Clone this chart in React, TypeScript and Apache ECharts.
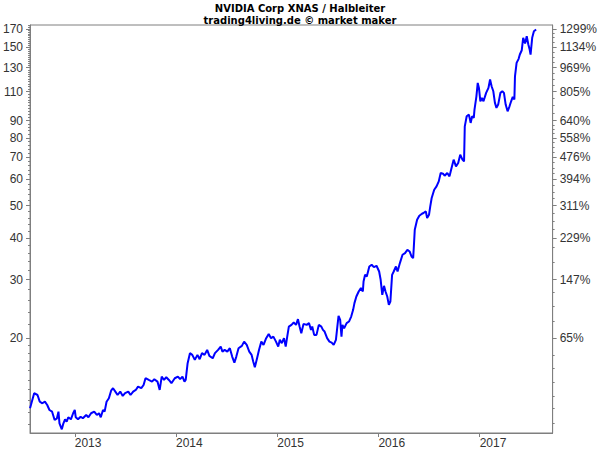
import React, { useEffect, useRef } from "react";
import * as echarts from "echarts";

// decimal years of the traced points
const years: number[] = [
  2012.558, 2012.567, 2012.599, 2012.632, 2012.654, 2012.68, 2012.705, 2012.728, 2012.75, 2012.776,
  2012.801, 2012.824, 2012.839, 2012.849, 2012.872, 2012.888, 2012.904, 2012.92, 2012.936, 2012.962,
  2012.984, 2013.0, 2013.01, 2013.032, 2013.058, 2013.08, 2013.113, 2013.135, 2013.161, 2013.192,
  2013.218, 2013.24, 2013.257, 2013.279, 2013.295, 2013.314, 2013.337, 2013.359, 2013.378, 2013.401,
  2013.423, 2013.449, 2013.474, 2013.497, 2013.529, 2013.551, 2013.577, 2013.603, 2013.625, 2013.657,
  2013.68, 2013.699, 2013.731, 2013.763, 2013.786, 2013.817, 2013.839, 2013.859, 2013.882, 2013.904,
  2013.93, 2013.955, 2013.988, 2014.019, 2014.041, 2014.064, 2014.084, 2014.096, 2014.115, 2014.138,
  2014.161, 2014.186, 2014.212, 2014.234, 2014.257, 2014.282, 2014.308, 2014.33, 2014.363, 2014.385,
  2014.416, 2014.442, 2014.459, 2014.481, 2014.507, 2014.532, 2014.555, 2014.577, 2014.596, 2014.618,
  2014.651, 2014.673, 2014.699, 2014.724, 2014.747, 2014.763, 2014.779, 2014.801, 2014.82, 2014.843,
  2014.865, 2014.891, 2014.916, 2014.939, 2014.962, 2014.988, 2015.01, 2015.026, 2015.045, 2015.067,
  2015.084, 2015.099, 2015.115, 2015.141, 2015.163, 2015.186, 2015.205, 2015.221, 2015.238, 2015.26,
  2015.291, 2015.314, 2015.334, 2015.346, 2015.365, 2015.388, 2015.411, 2015.436, 2015.452, 2015.468,
  2015.493, 2015.516, 2015.538, 2015.558, 2015.58, 2015.596, 2015.606, 2015.622, 2015.635, 2015.644,
  2015.661, 2015.686, 2015.709, 2015.731, 2015.75, 2015.763, 2015.782, 2015.805, 2015.827, 2015.846,
  2015.853, 2015.868, 2015.885, 2015.91, 2015.933, 2015.955, 2015.981, 2016.007, 2016.022, 2016.038,
  2016.055, 2016.07, 2016.087, 2016.103, 2016.118, 2016.135, 2016.151, 2016.173, 2016.189, 2016.212,
  2016.238, 2016.263, 2016.286, 2016.308, 2016.327, 2016.343, 2016.349, 2016.359, 2016.382, 2016.404,
  2016.43, 2016.445, 2016.468, 2016.481, 2016.5, 2016.512, 2016.526, 2016.551, 2016.574, 2016.596,
  2016.615, 2016.638, 2016.654, 2016.68, 2016.702, 2016.718, 2016.743, 2016.766, 2016.788, 2016.808,
  2016.83, 2016.846, 2016.853, 2016.872, 2016.894, 2016.911, 2016.926, 2016.942, 2016.949, 2016.968,
  2016.981, 2016.993, 2017.007, 2017.022, 2017.038, 2017.064, 2017.087, 2017.103, 2017.118, 2017.135,
  2017.151, 2017.166, 2017.183, 2017.205, 2017.224, 2017.24, 2017.257, 2017.276, 2017.295, 2017.311,
  2017.327, 2017.343, 2017.349, 2017.365, 2017.385, 2017.397, 2017.416, 2017.43, 2017.449, 2017.465,
  2017.481, 2017.494, 2017.503, 2017.519, 2017.536, 2017.558,
];

// closing prices (USD)
const prices: number[] = [
  12.32, 12.6, 13.67, 13.5, 12.89, 12.75, 12.89, 12.6, 12.17, 12.03,
  11.36, 11.49, 12.03, 11.1, 10.65, 11.1, 11.41, 11.23, 11.57, 11.41,
  11.9, 12.17, 11.57, 11.41, 11.62, 11.49, 11.76, 11.57, 11.9, 12.03,
  11.76, 11.9, 11.57, 12.17, 12.03, 12.89, 13.2, 13.91, 14.15, 13.82,
  13.5, 13.82, 13.41, 13.67, 13.82, 13.5, 13.82, 13.98, 14.3, 14.15,
  14.47, 15.16, 14.98, 14.81, 15.06, 14.81, 13.98, 15.33, 14.98, 15.27,
  14.98, 14.65, 15.16, 15.33, 15.06, 15.33, 14.81, 14.98, 16.82, 18.03,
  17.82, 17.21, 17.82, 17.29, 18.03, 17.82, 18.44, 17.69, 17.41, 18.03,
  18.44, 18.87, 18.23, 18.44, 18.23, 18.66, 17.61, 16.89, 17.61, 18.66,
  18.96, 19.53, 19.09, 18.23, 17.82, 17.01, 16.36, 17.41, 18.44, 19.53,
  19.09, 20.0, 20.6, 20.0, 20.22, 19.53, 18.87, 19.77, 19.32, 20.0,
  18.87, 20.22, 21.67, 21.93, 22.28, 21.93, 22.81, 21.67, 20.7, 22.08,
  21.93, 22.19, 21.18, 21.67, 20.46, 20.46, 21.93, 21.67, 21.18, 20.94,
  20.0, 19.53, 19.4, 19.09, 19.77, 21.93, 23.34, 22.7, 20.22, 21.93,
  21.43, 22.19, 22.44, 23.23, 24.33, 25.49, 26.68, 27.62, 28.28, 27.62,
  29.6, 31.0, 30.64, 32.84, 33.23, 32.7, 33.0, 31.72, 29.95, 26.99,
  28.73, 27.62, 26.68, 25.19, 25.77, 31.0, 31.72, 32.84, 31.72, 33.62,
  35.61, 36.03, 36.86, 36.43, 35.19, 34.8, 37.3, 42.34, 45.38, 46.65,
  47.3, 47.53, 48.06, 45.91, 46.98, 49.76, 52.73, 55.85, 57.15, 59.16,
  62.7, 62.4, 61.54, 62.7, 61.24, 64.15, 68.75, 65.64, 67.2, 71.17,
  68.75, 67.95, 86.58, 92.79, 93.89, 88.65, 92.79, 91.77, 97.2, 106.58,
  116.94, 112.96, 102.95, 105.4, 102.95, 109.12, 112.96, 119.65, 114.22, 110.34,
  101.82, 98.35, 100.63, 109.12, 110.34, 109.12, 100.63, 96.07, 99.45, 102.95,
  106.14, 104.17, 122.41, 134.31, 138.08, 142.26, 146.56, 159.71, 153.52, 161.47,
  152.47, 147.27, 142.26, 159.71, 167.18, 169.15,
];

// axis ticks
const xYears: number[] = [2013, 2014, 2015, 2016, 2017];
const priceTicks: number[] = [20, 30, 40, 50, 60, 70, 80, 90, 110, 130, 150, 170];
const pctLabels: string[] = [
  "65%", "147%", "229%", "311%", "394%", "476%", "558%", "640%", "805%", "969%", "1134%", "1299%",
];
const leftMinor: number[] = [
  11, 12, 13, 14, 15, 16, 17, 18, 19, 22, 24, 26, 28, 32, 34, 36, 38, 42, 44, 46, 48,
  52, 54, 56, 58, 62, 64, 66, 68, 72, 74, 76, 78, 82, 84, 86, 88, 92, 94, 96, 98, 100,
  102, 104, 106, 108, 112, 114, 116, 118, 120, 122, 124, 126, 128, 132, 134, 136, 138,
  140, 142, 144, 146, 148, 152, 154, 156, 158, 160, 162, 164, 166, 168, 172, 174,
];
const rightMinor: number[] = [
  11.1, 12.3, 13.4, 14.7, 16.25, 17.8, 22.5, 25, 27.5, 33.7, 37.5, 42.5, 45, 47.5,
  52.5, 55, 57.5, 62.5, 65, 67.5, 72.5, 75, 77.5, 82.5, 85, 87.5, 95, 100, 105,
  115, 120, 125, 135, 140, 145, 155, 160, 165,
];

const X_MIN = 2012.558;
const X_MAX = 2017.721;
const P_MIN = 10.38;
const P_MAX = 174.5;

export default function App() {
  const ref = useRef<HTMLDivElement>(null);

  useEffect(() => {
    if (!ref.current) return;
    const chart = echarts.init(ref.current, undefined, { renderer: "svg" });
    const yMin = Math.log(P_MIN);
    const yMax = Math.log(P_MAX);
    const lnTicks = priceTicks.map((p) => Math.log(p));
    const nearestIdx = (v: number) => {
      let best = 0;
      for (let i = 1; i < lnTicks.length; i++) {
        if (Math.abs(lnTicks[i] - v) < Math.abs(lnTicks[best] - v)) best = i;
      }
      return best;
    };
    const axisGray = "#7f7f7f";
    const labelStyle = {
      color: "#333",
      fontSize: 12,
      fontFamily: "'Liberation Sans Narrow', 'Liberation Sans', Arial, sans-serif",
    };
    const titleFont = {
      fontSize: 10,
      fontWeight: "bold",
      color: "#000",
      fontFamily: "'DejaVu Sans', Verdana, sans-serif",
    };
    const baseY = {
      type: "value" as const,
      min: yMin,
      max: yMax,
      splitLine: { show: false },
    };

    chart.setOption({
      animation: false,
      backgroundColor: "#ffffff",
      title: {
        left: "center",
        top: -2,
        text: "NVIDIA Corp XNAS / Halbleiter",
        subtext: "trading4living.de © market maker",
        itemGap: 2,
        textStyle: titleFont,
        subtextStyle: titleFont,
      },
      grid: {
        left: 24,
        right: 39,
        top: 25,
        bottom: 17,
        show: true,
        borderColor: axisGray,
        borderWidth: 1,
        backgroundColor: "transparent",
      },
      xAxis: {
        type: "value",
        min: X_MIN,
        max: X_MAX,
        splitLine: { show: false },
        axisLine: { lineStyle: { color: axisGray } },
        axisTick: {
          customValues: xYears,
          length: 4,
          lineStyle: { color: axisGray },
        },
        axisLabel: {
          customValues: xYears,
          formatter: (v: number) => String(Math.round(v)),
          align: "left",
          margin: 4,
          ...labelStyle,
        },
      },
      yAxis: [
        {
          ...baseY,
          position: "left",
          axisLine: { show: true, lineStyle: { color: axisGray } },
          axisTick: { customValues: lnTicks, length: 4, lineStyle: { color: axisGray } },
          axisLabel: {
            customValues: lnTicks,
            formatter: (v: number) => String(priceTicks[nearestIdx(v)]),
            margin: 7,
            ...labelStyle,
          },
        },
        {
          ...baseY,
          position: "left",
          axisLine: { show: false },
          axisTick: {
            customValues: leftMinor.map((p) => Math.log(p)),
            length: 2,
            lineStyle: { color: axisGray },
          },
          axisLabel: { show: false },
        },
        {
          ...baseY,
          position: "right",
          axisLine: { show: true, lineStyle: { color: axisGray } },
          axisTick: { customValues: lnTicks, length: 4, lineStyle: { color: axisGray } },
          axisLabel: {
            customValues: lnTicks,
            formatter: (v: number) => pctLabels[nearestIdx(v)],
            margin: 7,
            ...labelStyle,
          },
        },
        {
          ...baseY,
          position: "right",
          axisLine: { show: false },
          axisTick: {
            customValues: rightMinor.map((p) => Math.log(p)),
            length: 2,
            lineStyle: { color: axisGray },
          },
          axisLabel: { show: false },
        },
      ],
      series: [
        {
          type: "line",
          xAxisIndex: 0,
          yAxisIndex: 0,
          showSymbol: false,
          symbol: "none",
          lineStyle: { color: "#0000ff", width: 2 },
          data: years.map((t, i) => [t, Math.log(prices[i])]),
        },
      ],
    });

    return () => chart.dispose();
  }, []);

  return (
    <div
      ref={ref}
      style={{ position: "fixed", left: 0, top: 0, width: 600, height: 450, background: "#fff" }}
    />
  );
}
